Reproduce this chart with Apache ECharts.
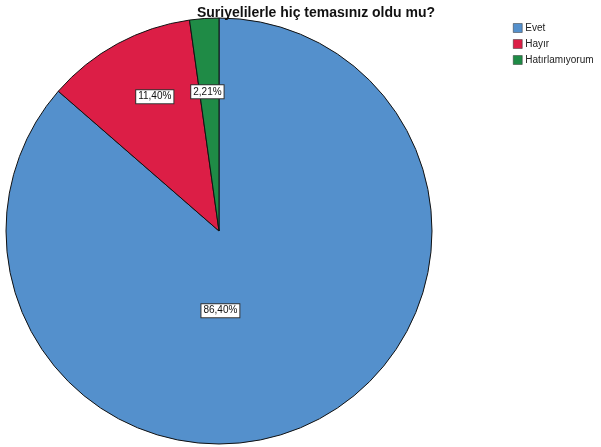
<!DOCTYPE html>
<html><head><meta charset="utf-8">
<script src="https://cdn.jsdelivr.net/npm/echarts@6/dist/echarts.min.js"></script>
<style>html,body{margin:0;padding:0;background:#fff}#c{width:601px;height:447px}</style>
</head><body><div id="c"></div>
<script>
const titleText = 'Suriyelilerle hiç temasınız oldu mu?';
const categories = ['Evet', 'Hayır', 'Hatırlamıyorum'];
const values = [86.40, 11.40, 2.21];
const colors = ['#5490cc', '#dc1e46', '#1f8b46'];
const labelOffsets = [[-44, -20], [-12, -38], [-4, -30]];

const chart = echarts.init(document.getElementById('c'), null, {renderer: 'canvas'});
chart.setOption({
  animation: false,
  title: {
    text: titleText, left: 311, top: 1, textAlign: 'center',
    textStyle: {fontFamily: 'Liberation Sans', fontSize: 14, fontWeight: 'bold', color: '#111'}
  },
  legend: {
    orient: 'vertical', left: 508, top: 18, itemWidth: 9, itemHeight: 9, itemGap: 6,
    icon: 'rect',
    data: categories,
    itemStyle: {borderColor: '#333', borderWidth: 0.5},
    textStyle: {fontFamily: 'Liberation Sans', fontSize: 10, color: '#222', padding: [0, 0, 0, -2]}
  },
  series: [{
    type: 'pie', center: [219, 231], radius: [0, 213], startAngle: 90, clockwise: true,
    avoidLabelOverlap: false,
    itemStyle: {borderColor: '#111', borderWidth: 1},
    label: {
      show: true, position: 'inside',
      formatter: p => p.value.toFixed(2).replace('.', ',') + '%',
      fontFamily: 'Liberation Sans', fontSize: 10, color: '#111',
      backgroundColor: '#fff', borderColor: '#333', borderWidth: 1, padding: [2, 2, 1, 2]
    },
    labelLine: {show: false},
    data: categories.map((n, i) => ({
      name: n, value: values[i], itemStyle: {color: colors[i]},
      label: {offset: labelOffsets[i]}
    }))
  }]
});
</script></body></html>
